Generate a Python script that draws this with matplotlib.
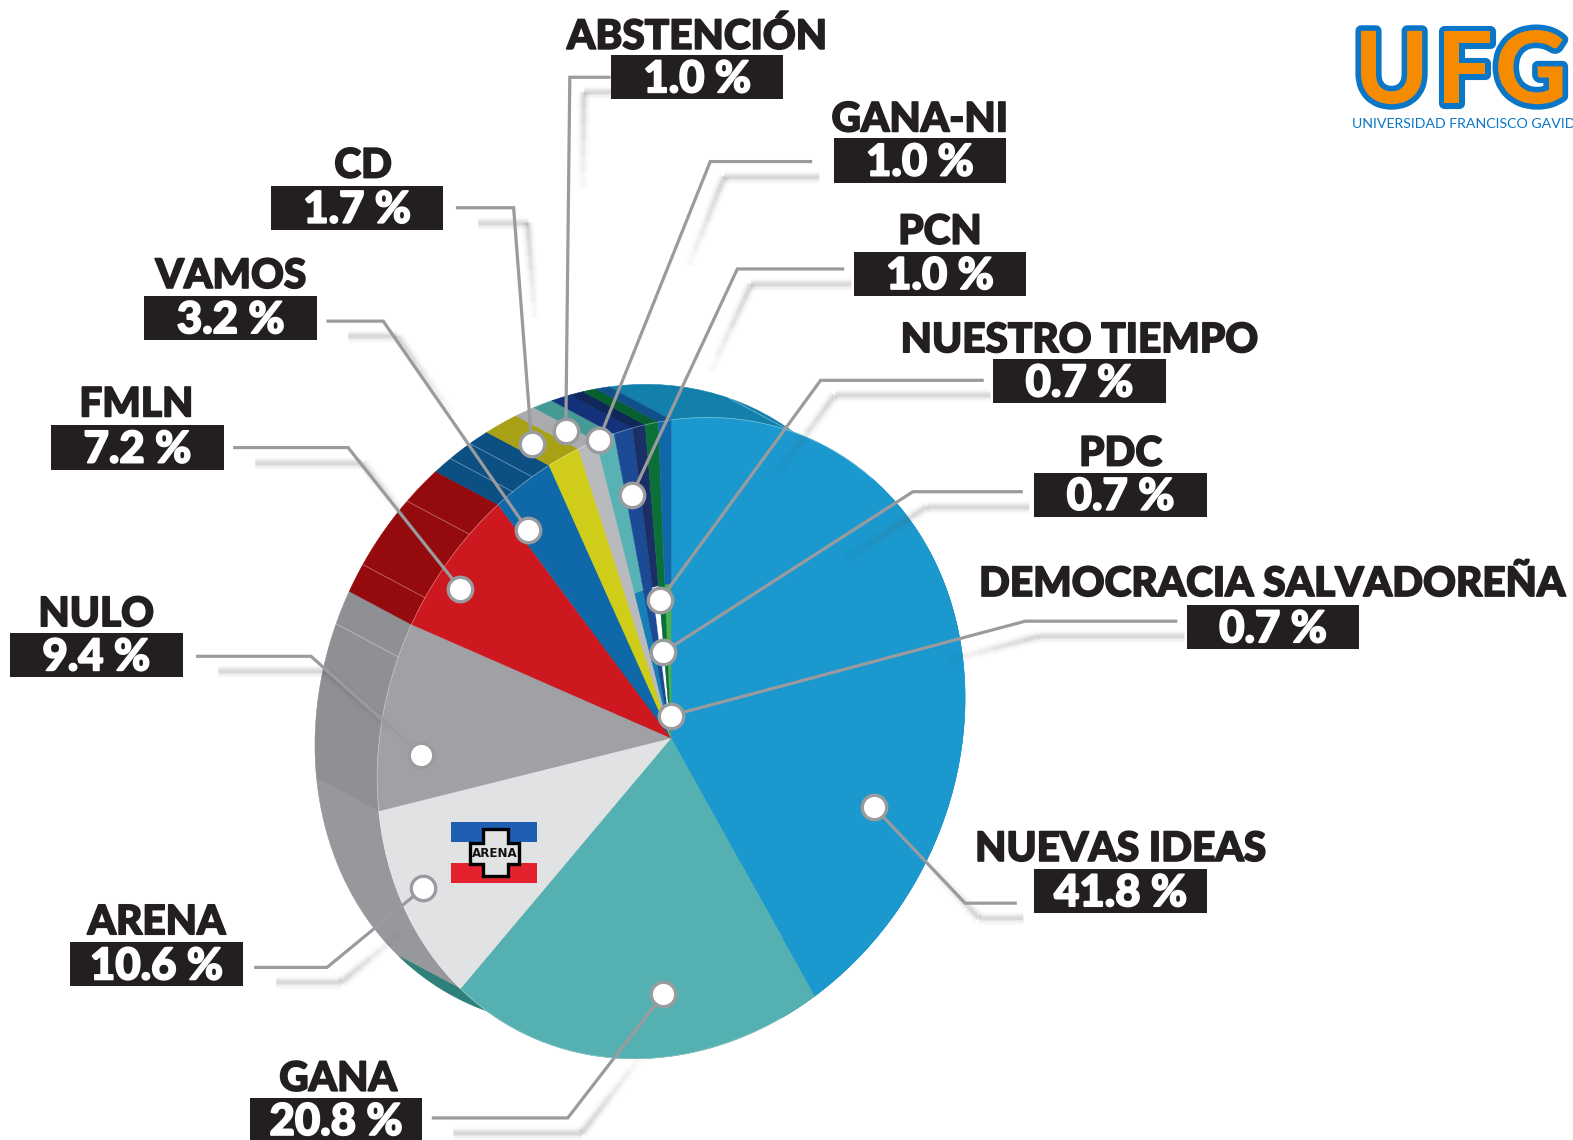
import numpy as np
import matplotlib
matplotlib.use("Agg")
import matplotlib.pyplot as plt
from matplotlib.patches import Polygon, Rectangle
from matplotlib.transforms import Affine2D
import matplotlib.patheffects as pe

# ---- data ----
parties = ["NUEVAS IDEAS", "GANA", "ARENA", "NULO", "FMLN", "VAMOS", "CD", "ABSTENCIÓN",
           "GANA-NI", "PCN", "NUESTRO TIEMPO", "PDC", "DEMOCRACIA SALVADOREÑA"]
shares = [41.8, 20.8, 10.6, 9.4, 7.2, 3.2, 1.7, 1.0, 1.0, 1.0, 0.7, 0.7, 0.7]

# ---- styles ----
front_colors = ["#1B98CE", "#55B1B1", "#E1E2E4", "#A0A1A5", "#CD1820", "#0F69A8", "#D0CC1A",
                "#B8BABD", "#58B2B3", "#1C4A94", "#1A2F66", "#0A7038", "#1068A8"]
inner_colors = ["#1B98CE", "#55B1B1", "#E1E2E4", "#A0A1A5", "#CD1820", "#0F69A8", "#D0CC1A",
                "#B8BABD", "#1580B5", "#1C4A94", "#FFFFFF", "#0A7038", "#4CAF50"]
wall_colors = ["#1380AB", "#2F7F7A", "#97989C", "#8F9094", "#950A0D", "#0B4F83", "#A8A015",
               "#A9ABAE", "#459A96", "#14327A", "#10275A", "#055F2E", "#10508A"]
facet_fracs = {0: [0.16], 2: [], 3: [0.82], 4: [0.2, 0.72], 5: [0.3, 0.68]}

# ---- layout (pixels of the picture, as shown) ----
CX, CY = 669.0, 735.5
AX, AY, BY = 293.0, -40.0, -317.0
SHIFT = np.array([-62.0, -33.0])
BOX_W, BOX_H = 172, 44
label_layout = {  # box left, box top, name centre x, name centre y
    "ABSTENCIÓN": (609, 55, 695, 36), "GANA-NI": (831, 138, 917, 119), "PCN": (851, 251, 937, 231),
    "NUESTRO TIEMPO": (990, 358, 1076, 339), "PDC": (1031, 471, 1117, 452),
    "DEMOCRACIA SALVADOREÑA": (1183, 603, 1268, 582), "NUEVAS IDEAS": (1031, 866, 1117, 846),
    "GANA": (249, 1094, 337, 1075), "ARENA": (70, 939, 156, 919), "NULO": (10, 631, 96, 612),
    "FMLN": (51, 424, 136, 403), "VAMOS": (144, 295, 230, 275), "CD": (270, 185, 362, 165),
}
leaders = {
    "ABSTENCIÓN": [(607, 77), (568, 77), (564, 429)], "GANA-NI": [(808, 161), (708, 161), (597, 438)],
    "PCN": [(840, 268), (735, 268), (630, 493)], "NUESTRO TIEMPO": [(979, 379), (818, 379), (658, 598)],
    "PDC": [(1018, 490), (910, 490), (661, 650)], "DEMOCRACIA SALVADOREÑA": [(1172, 619), (1022, 619), (669, 713)],
    "NUEVAS IDEAS": [(1012, 900), (962, 900), (871, 804)], "GANA": [(432, 1114), (566, 1114), (661, 991)],
    "ARENA": [(255, 964), (326, 964), (422, 885)], "NULO": [(197, 654), (310, 654), (420, 752)],
    "FMLN": [(234, 446), (347, 446), (459, 587)], "VAMOS": [(327, 320), (382, 320), (526, 528)],
    "CD": [(456, 207), (512, 207), (530, 442)],
}

FONT = ["Lato", "Open Sans", "DejaVu Sans"]
fig = plt.figure(figsize=(15.73, 11.40), dpi=100, facecolor="white")
ax = fig.add_axes([0, 0, 1, 1])
ax.set_xlim(0, 1568)
ax.set_ylim(1136, 0)
ax.axis("off")

T = Affine2D.from_values(AX, AY, 0, BY, CX, CY)


def rim(f0, f1, n=60):
    """Projected rim points for a fraction range, clockwise from the top."""
    th = 2 * np.pi * np.linspace(f0, f1, n)
    return T.transform(np.column_stack([np.sin(th), np.cos(th)]))


total = sum(shares)
edges = np.concatenate([[0], np.cumsum(shares)]) / total

# side walls
for i in range(len(shares)):
    front = rim(edges[i], edges[i + 1])
    ax.add_patch(Polygon(np.vstack([front, (front + SHIFT)[::-1]]), closed=True,
                         fc=wall_colors[i], ec=wall_colors[i], lw=0.4, zorder=1))
    for frac in facet_fracs.get(i, []):
        p = rim(edges[i] + frac * (edges[i + 1] - edges[i]), edges[i + 1], 2)[0]
        ax.plot([p[0], p[0] + SHIFT[0]], [p[1], p[1] + SHIFT[1]], color="white", lw=0.6, alpha=0.4, zorder=2)

# sliver of the GANA wall below the ARENA wall
g_arc = rim(edges[2] - 0.02, edges[2], 12)
ax.add_patch(Polygon(np.vstack([g_arc, g_arc[-1] + SHIFT]), closed=True, fc=wall_colors[1], lw=0, zorder=1))

# front face, from the values, through the oblique projection
face_tf = T + ax.transData
w_outer, _ = ax.pie(shares, colors=front_colors, startangle=90, counterclock=False, radius=1,
                    wedgeprops=dict(linewidth=0.3), frame=False)
w_inner, _ = ax.pie(shares, colors=inner_colors, startangle=90, counterclock=False, radius=0.485,
                    wedgeprops=dict(linewidth=0.2), frame=False)
for w in w_outer:
    w.set_transform(face_tf); w.set_zorder(3); w.set_edgecolor(w.get_facecolor())
for w in w_inner:
    w.set_transform(face_tf); w.set_zorder(3.1); w.set_edgecolor(w.get_facecolor())
ax.set_aspect("auto")
ax.set_xlim(0, 1568)
ax.set_ylim(1136, 0)
ax.axis("off")
ax.set_position([0, 0, 1, 1])

r = rim(edges[1] + 0.02, 1.12, 200)
ax.plot(r[:, 0], r[:, 1], color="white", lw=0.6, alpha=0.35, zorder=3.2)

# ARENA flag
ax.add_patch(Rectangle((449.5, 819.5), 86, 20, fc="#1E5FB4", lw=0, zorder=4.1))
ax.add_patch(Rectangle((449.5, 859.5), 86, 20, fc="#E4222E", lw=0, zorder=4.1))
cross_x = [481, 506, 506, 517, 517, 506, 506, 481, 481, 469, 469, 481]
cross_y = [826, 826, 840, 840, 861, 861, 873, 873, 861, 861, 840, 840]
ax.add_patch(Polygon(np.column_stack([cross_x, cross_y]), closed=True, fc="#E1E2E4", ec="black", lw=2.4, zorder=4.2))
ax.text(493.5, 850.5, "ARENA", ha="center", va="center", fontsize=8.6, fontweight="bold",
        family="DejaVu Sans", color="#111111", zorder=4.3)

# leaders
LINE = "#9A9B9E"
SHADOW_LEVELS = ((9, 0.035), (6.5, 0.05), (4, 0.08), (2.5, 0.09))
for name, pts in leaders.items():
    xs, ys = np.array(pts, float).T
    sx, sy = xs + 14, ys + 15
    sx[0] += 6 * np.sign(sx[1] - sx[0])
    leg = np.hypot(sx[2] - sx[1], sy[2] - sy[1])
    tail = min(0.6, 95 / leg)
    for lw, a in SHADOW_LEVELS:
        ax.plot(sx[:2], sy[:2], color="#5F6062", lw=lw, alpha=a, solid_capstyle="butt", zorder=5)
        for k in range(6):
            t0, t1 = tail * k / 6, tail * (k + 1) / 6
            ax.plot([sx[1] + t0 * (sx[2] - sx[1]), sx[1] + t1 * (sx[2] - sx[1])],
                    [sy[1] + t0 * (sy[2] - sy[1]), sy[1] + t1 * (sy[2] - sy[1])],
                    color="#5F6062", lw=lw, alpha=a * (1 - k / 6), solid_capstyle="butt", zorder=5)
    ax.plot(xs, ys, color=LINE, lw=2.3, solid_joinstyle="miter", zorder=6)
    ax.scatter([xs[-1]], [ys[-1]], s=310, facecolor="white", edgecolor=LINE, linewidth=2.4, zorder=7)

# labels
for name, value in zip(parties, shares):
    bx, by, nx, ny = label_layout[name]
    ax.add_patch(Rectangle((bx, by), BOX_W, BOX_H, fc="#231F20", lw=0, zorder=8))
    ax.text(bx + BOX_W / 2, by + BOX_H / 2 + 2, f"{value:.1f} %", ha="center", va="center", color="white",
            fontsize=31.5, fontweight="black", family=FONT, zorder=9,
            path_effects=[pe.withStroke(linewidth=1.3, foreground="white")])
    ax.text(nx, ny, name, ha="center", va="center", color="#231F20",
            fontsize=29.2, fontweight="black", family=FONT, zorder=9,
            path_effects=[pe.withStroke(linewidth=1.2, foreground="#231F20")])

# logo
BLUE, ORANGE = "#0A76C8", "#F68B00"
for ch, x in zip("UFG", (1350, 1432, 1490)):
    ax.text(x, 103, ch, ha="left", va="baseline", color=ORANGE, fontsize=72, fontweight="black", family=FONT,
            path_effects=[pe.withStroke(linewidth=8, foreground=BLUE)], zorder=9, clip_on=True)
ax.text(1348, 124, "UNIVERSIDAD FRANCISCO GAVIDIA", ha="left", va="center", color=BLUE, fontsize=10.2,
        family=FONT, zorder=9, clip_on=True)

fig.savefig("out.png", dpi=100, facecolor="white")
